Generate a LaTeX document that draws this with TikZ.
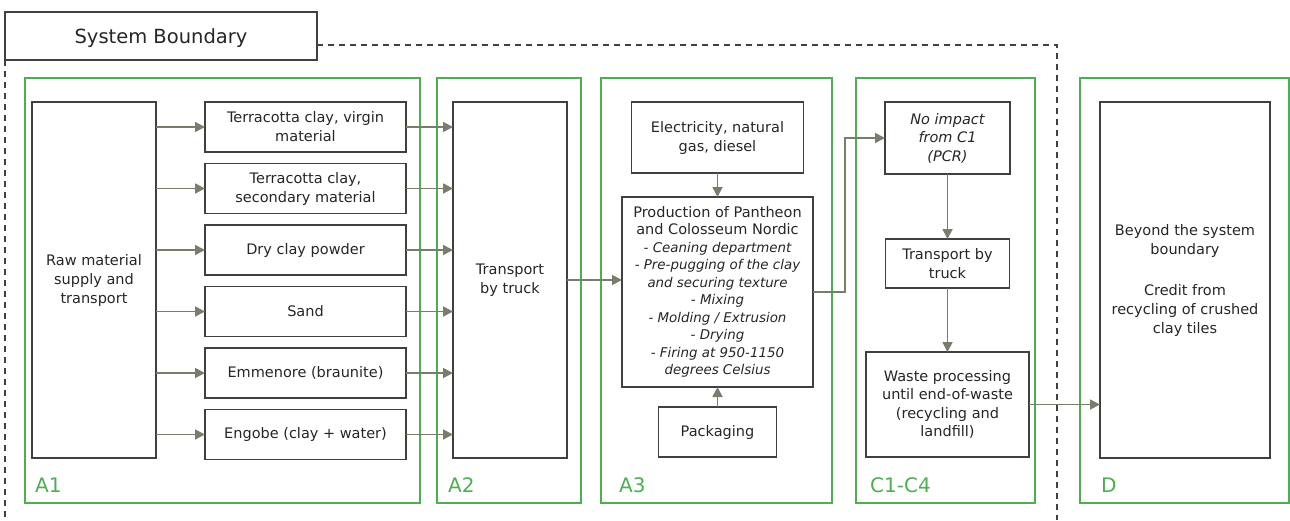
\documentclass[tikz,border=0pt]{standalone}
\usepackage{fontspec}
\setmainfont{DejaVu Sans}
\usetikzlibrary{positioning,arrows.meta}
\definecolor{stagegreen}{RGB}{76,175,80}
\definecolor{flowgray}{RGB}{122,125,108}
\definecolor{boxgray}{RGB}{64,64,64}
\definecolor{textgray}{RGB}{38,38,38}
\newcommand{\substepfont}{\fontsize{13.4}{17.5}\selectfont\itshape}

\begin{document}
\begin{tikzpicture}[x=1pt, y=-1pt,
    box/.style={draw=boxgray, line width=1.7pt, fill=white, text=textgray, align=center,
        inner sep=0pt, outer sep=0pt, font=\fontsize{14.5}{19}\selectfont},
    mat_box/.style={box, minimum width=201pt, minimum height=50pt},
    stage/.style={draw=stagegreen, line width=1.5pt},
    stage_label/.style={anchor=base west, text=stagegreen, inner sep=0pt, font=\fontsize{20}{24}\selectfont},
    boundary/.style={draw=boxgray, line width=1.3pt, dash pattern=on 6pt off 5pt},
    flow/.style={draw=flowgray, line width=1.8pt, -{Triangle[length=10pt,width=10pt]}},
    node distance=11.5pt
]
    \useasboundingbox (0,0) rectangle (1290,520);
    % System boundary
    \node[box, line width=1.5pt, minimum width=312pt, minimum height=48pt, font=\fontsize{19.5}{24}\selectfont,
        text depth=-3pt] (sysb) at (161,36) {System Boundary};
    \draw[boundary] (sysb.south west) -- (5,520);
    \draw[boundary] ([yshift=-9pt]sysb.east) -- (1057,45) -- (1057,520);
    % Stages
    \draw[stage] (25,78) rectangle (420,503);
    \draw[stage] (437,78) rectangle (581,503);
    \draw[stage] (601,78) rectangle (832,503);
    \draw[stage] (856,78) rectangle (1035,503);
    \draw[stage] (1080,78) rectangle (1289,503);
    \node[stage_label] (lA1) at (35,492) {A1};
    \node[stage_label] (lA2) at (448,492) {A2};
    \node[stage_label] (lA3) at (619,492) {A3};
    \node[stage_label] (lC) at (870,492) {C1-C4};
    \node[stage_label] (lD) at (1101,492) {D};
    % A1
    \node[box, minimum width=124pt, minimum height=356pt] (raw) at (94,280) {Raw material\\supply and\\transport};
    \node[mat_box] (m1) at (305.5,127) {Terracotta clay, virgin\\material};
    \node[mat_box, below=of m1] (m2) {Terracotta clay,\\secondary material};
    \node[mat_box, below=of m2] (m3) {Dry clay powder};
    \node[mat_box, below=of m3] (m4) {Sand};
    \node[mat_box, below=of m4] (m5) {Emmenore (braunite)};
    \node[mat_box, below=of m5] (m6) {Engobe (clay + water)};
    % A2
    \node[box, minimum width=114pt, minimum height=356pt] (truckA) at (510,280) {Transport\\by truck};
    % A3
    \node[box, minimum width=191pt, minimum height=190pt, font=\fontsize{14.5}{17.5}\selectfont] (prod) at (717.5,292)
        {Production of Pantheon\\and Colosseum Nordic\\
         {\substepfont - Ceaning department}\\
         {\substepfont - Pre-pugging of the clay}\\
         {\substepfont and securing texture}\\
         {\substepfont - Mixing}\\
         {\substepfont - Molding / Extrusion}\\
         {\substepfont - Drying}\\
         {\substepfont - Firing at 950-1150}\\
         {\substepfont degrees Celsius}};
    \node[box, minimum width=172pt, minimum height=71pt, above=24pt of prod] (elec) {Electricity, natural\\gas, diesel};
    \node[box, minimum width=118pt, minimum height=50pt, below=20pt of prod] (pack) {Packaging};
    % C1-C4
    \node[box, minimum width=125pt, minimum height=72pt, font=\fontsize{14.5}{18.5}\selectfont\itshape] (noimp) at (947.5,138) {No impact\\from C1\\(PCR)};
    \node[box, minimum width=124pt, minimum height=49pt, below=65pt of noimp] (truckC) {Transport by\\truck};
    \node[box, minimum width=163pt, minimum height=105pt, below=64pt of truckC, font=\fontsize{14.5}{18.5}\selectfont] (waste) {Waste processing\\until end-of-waste\\(recycling and\\landfill)};
    % D
    \node[box, minimum width=170pt, minimum height=356pt] (beyond) at (1185,280) {Beyond the system\\boundary\\[22pt]Credit from\\recycling of crushed\\clay tiles};
    % Flows
    \foreach \m in {m1,m2,m3,m4,m5,m6} {
        \draw[flow] (raw.east |- \m.west) -- (\m.west);
        \draw[flow] (\m.east) -- (\m.east -| truckA.west);
    }
    \draw[flow] (truckA.east) -- (truckA.east -| prod.west);
    \draw[flow] (elec.south) -- (prod.north);
    \draw[flow] (pack.north) -- (prod.south);
    \draw[flow] (prod.east) -- ++(32,0) |- (noimp.west);
    \draw[flow] (noimp.south) -- (truckC.north);
    \draw[flow] (truckC.south) -- (waste.north);
    \draw[flow] (waste.east) -- (waste.east -| beyond.west);
\end{tikzpicture}
\end{document}
